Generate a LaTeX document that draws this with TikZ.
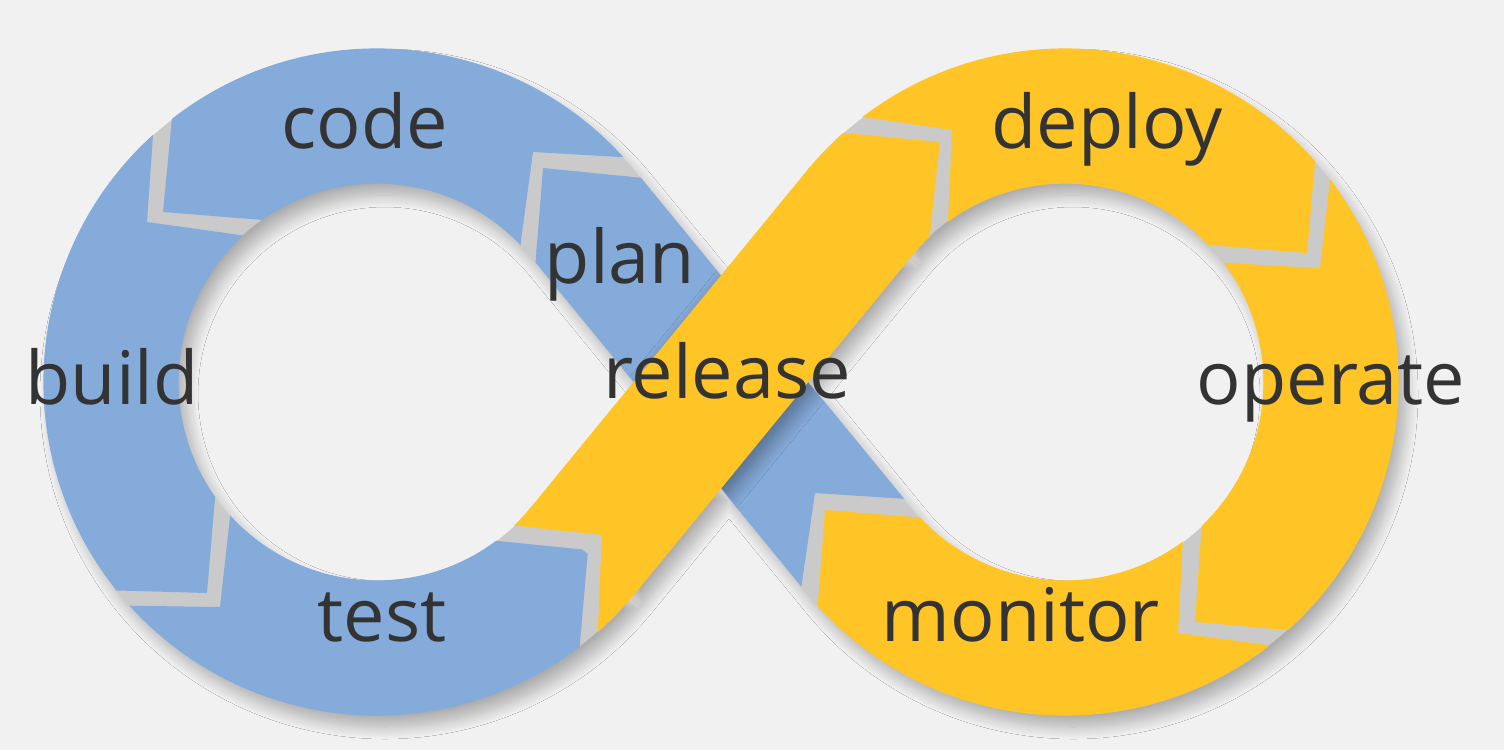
\documentclass[tikz,border=0pt]{standalone}
\usepackage{fontspec}
\setmainfont{Open Sans}
\usetikzlibrary{calc,shadows.blur}
\definecolor{bg}{HTML}{F1F1F1}
\definecolor{bblue}{HTML}{85ABDB}
\definecolor{yel}{HTML}{FFC425}
\definecolor{gapgray}{HTML}{CACACA}
\definecolor{txt}{HTML}{333333}
\begin{document}
\begin{tikzpicture}[x=0.01cm,y=0.01cm,
  lbl/.style={font=\fontsize{21}{25}\selectfont, text=txt, anchor=base, inner sep=0pt},
  seg/.style={fill=#1, draw=#1, line width=0.35pt}]
\useasboundingbox[fill=bg] (0,0) rectangle (1504,750);
\coordinate (C1) at (377,368);
\coordinate (C2) at (1065,368);
\def\LeftArc{($(C1)+(39.35:333)$) arc[start angle=39.35,end angle=320.65,radius=333] -- ($(C1)+(320.65:199)$) arc[start angle=320.65,end angle=39.35,radius=199] -- cycle}
\def\RightArc{($(C2)+(-140.65:333)$) arc[start angle=-140.65,end angle=140.65,radius=333] -- ($(C2)+(140.65:199)$) arc[start angle=140.65,end angle=-140.65,radius=199] -- cycle}
\def\BStrip{(632,582.2) -- (528.4,497.3) -- (810,153.8) -- (913.6,238.7) -- cycle}
\def\YStrip{(810,582.2) -- (528.4,238.7) -- (632,153.8) -- (913.6,497.3) -- cycle}
% drop shadow and gap colour
\path[blur shadow={shadow xshift=0.08cm,shadow yshift=-0.12cm,shadow blur radius=0.12cm,shadow blur steps=14,shadow opacity=28}] \LeftArc \RightArc \BStrip \YStrip;
\fill[gapgray] \LeftArc \RightArc \BStrip \YStrip;
% code
\begin{scope}
\clip (663.5,590.5) -- (533,598) -- (513.5,454) -- (377,368) -- (313,526) -- (163,538) -- (176.5,679) -- (176.5,760) -- (663.5,760) -- cycle;
\path[seg=bblue] \LeftArc;
\end{scope}
% build
\begin{scope}
\clip (156,658.5) -- (147,528) -- (286.5,508.5) -- (377,368) -- (219,299.5) -- (207,157) -- (64.5,161) -- (-50,161) -- (-50,760) -- (156,760) -- cycle;
\path[seg=bblue] \LeftArc;
\end{scope}
% test
\begin{scope}
\clip (235,278) -- (220,143) -- (82,145) -- (82,-50) -- (576,-50) -- (576,60.5) -- (588,200) -- (438,215) -- (377,368) -- cycle;
\path[seg=bblue] \LeftArc;
\end{scope}
% plan
\begin{scope}
\clip (953,248) -- (815,257) -- (795.5,123.5) -- (720,260) -- (377,368) -- (531,429) -- (543,582) -- (678,568.5) -- (780,700) -- (1000,400) -- cycle;
\path[seg=bblue] \LeftArc;
\path[seg=bblue] \BStrip;
\end{scope}
% shadow of release on plan
\begin{scope}
\clip \BStrip;
\path[blur shadow={shadow xshift=0.06cm,shadow yshift=-0.07cm,shadow blur radius=0.16cm,shadow blur steps=12,shadow opacity=40}] \YStrip;
\end{scope}
% deploy
\begin{scope}
\clip (818.5,639.5) -- (952,620) -- (946,482) -- (1065,368) -- (1158.5,509) -- (1307,497) -- (1319,633.5) -- (1319,780) -- (818.5,780) -- cycle;
\path[seg=yel] \RightArc;
\end{scope}
% operate
\begin{scope}
\clip (1335,614) -- (1320,482) -- (1177.5,489.5) -- (1065,368) -- (1205.5,278) -- (1195,128) -- (1333,116) -- (1550,116) -- (1550,614) -- cycle;
\path[seg=yel] \RightArc;
\end{scope}
% monitor
\begin{scope}
\clip (1185.5,259.5) -- (1178,117) -- (1311.5,99) -- (1311.5,-50) -- (818,-50) -- (814.5,102) -- (825,240) -- (975,228) -- (1065,368) -- cycle;
\path[seg=yel] \RightArc;
\path[seg=yel] \BStrip;
\end{scope}
% release
\begin{scope}
\clip (464,230) -- (602,215) -- (596,77) -- (700,60) -- (780,300) -- (1065,368) -- (925,471.5) -- (940,608) -- (794.5,621.5) -- (680,440) -- (377,368) -- cycle;
\path[seg=yel] \LeftArc;
\path[seg=yel] \YStrip;
\path[seg=yel] \RightArc;
\end{scope}
% labels
\node[lbl] (code) at (365,602) {code};
\node[lbl] (build) at (112,346) {build};
\node[lbl] (test) at (382,109) {test};
\node[lbl] (plan) at (620,467) {plan};
\node[lbl] (release) at (727,352) {release};
\node[lbl] (deploy) at (1107,602) {deploy};
\node[lbl] (operate) at (1331,346) {operate};
\node[lbl] (monitor) at (1021,109) {monitor};
\end{tikzpicture}
\end{document}
